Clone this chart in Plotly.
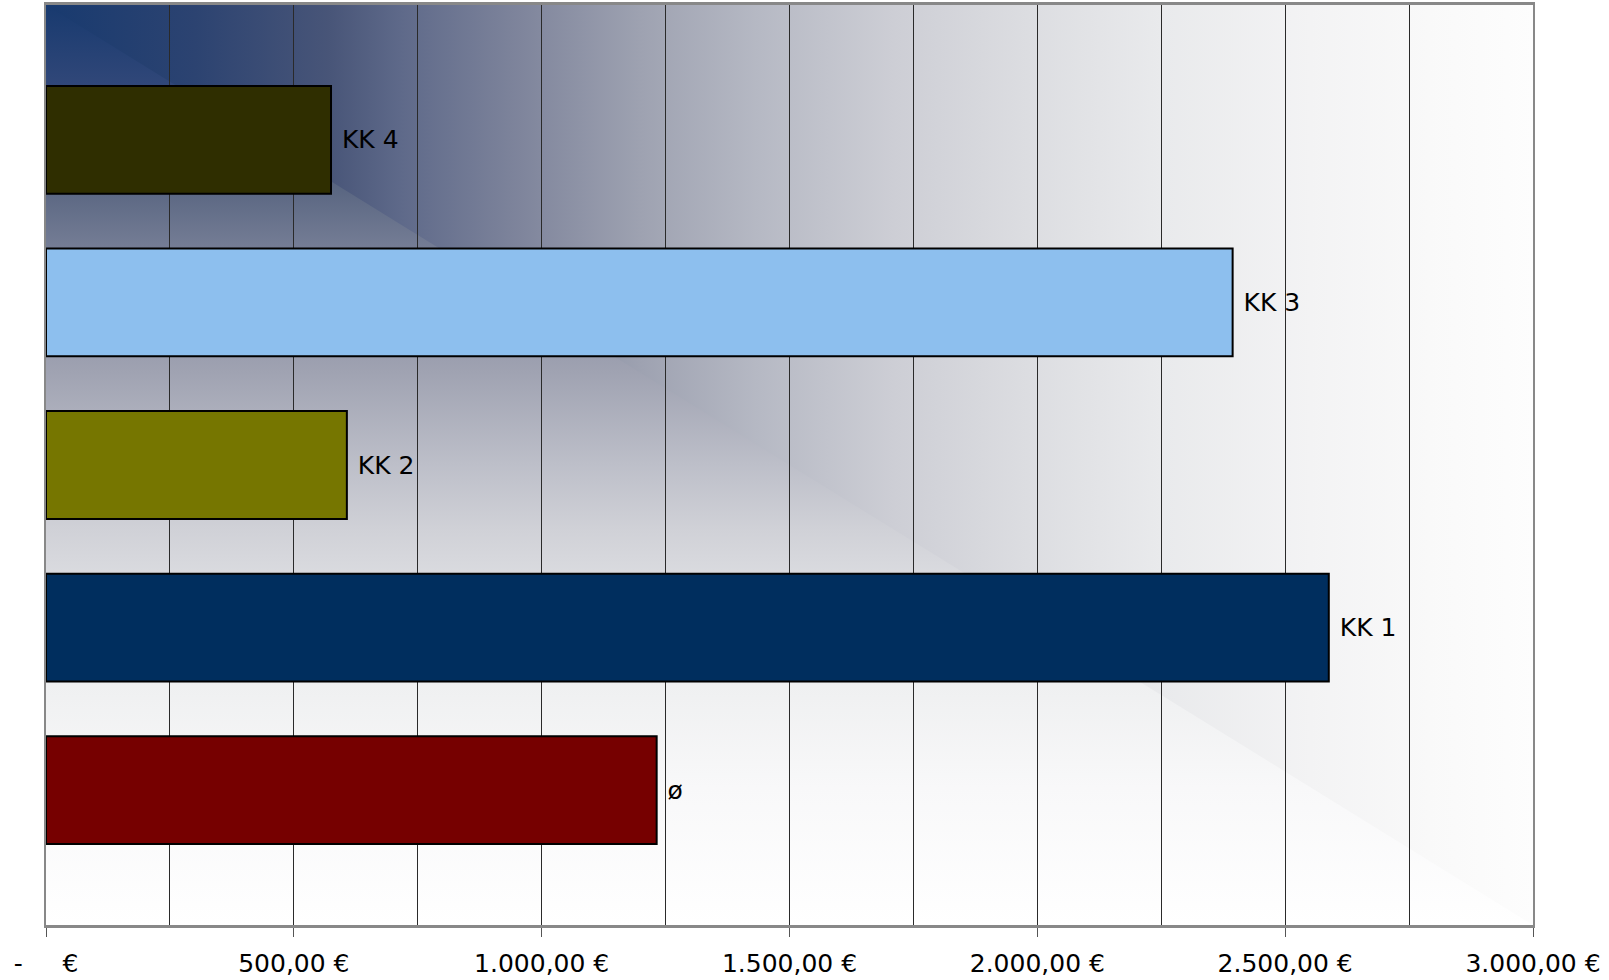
import base64

import plotly.graph_objects as go

# data, bottom to top
categories = ["ø", "KK 1", "KK 2", "KK 3", "KK 4"]
amounts = [1232, 2588, 607, 2394, 575]
bar_colors = ["#760000", "#002e5e", "#767600", "#8dbfee", "#2f2e00"]

tick_values = [0, 500, 1000, 1500, 2000, 2500, 3000]
tick_labels = [
    "-\u00a0\u00a0\u00a0\u00a0\u00a0€",
    "500,00 €",
    "1.000,00 €",
    "1.500,00 €",
    "2.000,00 €",
    "2.500,00 €",
    "3.000,00 €",
]

FONT = "DejaVu Sans, Verdana, sans-serif"


def corner_gradient_svg():
    """Rectangular 'from corner' gradient: dark blue top-left fading to white."""
    h_stops = [
        (0.00, "#183a6f"), (0.10, "#2c4371"), (0.19, "#485578"), (0.24, "#5f6a8a"),
        (0.32, "#7f859c"), (0.40, "#9ea2b1"), (0.48, "#b6b9c4"), (0.57, "#cdced5"),
        (0.66, "#dcdde1"), (0.75, "#e9eaec"), (0.85, "#f3f3f4"), (0.93, "#f9f9f9"),
        (1.00, "#fdfdfd"),
    ]
    v_stops = [
        (0.00, "#183a6f"), (0.10, "#34497a"), (0.19, "#56637f"), (0.30, "#848aa0"),
        (0.40, "#a0a3b2"), (0.50, "#bdbfc9"), (0.57, "#d0d1d7"), (0.66, "#e2e3e6"),
        (0.74, "#eff0f1"), (0.85, "#f8f8f9"), (1.00, "#ffffff"),
    ]

    def stops(s):
        return "".join(f"<stop offset='{o}' stop-color='{c}'/>" for o, c in s)

    svg = (
        "<svg xmlns='http://www.w3.org/2000/svg' width='1000' height='1000' "
        "viewBox='0 0 100 100' preserveAspectRatio='none'>"
        "<defs>"
        f"<linearGradient id='h' x1='0' y1='0' x2='1' y2='0'>{stops(h_stops)}</linearGradient>"
        f"<linearGradient id='v' x1='0' y1='0' x2='0' y2='1'>{stops(v_stops)}</linearGradient>"
        "</defs>"
        "<rect x='0' y='0' width='100' height='100' fill='url(#h)'/>"
        "<polygon points='0,0 0,100 100,100' fill='url(#v)'/>"
        "</svg>"
    )
    return "data:image/svg+xml;base64," + base64.b64encode(svg.encode()).decode()


fig = go.Figure()

fig.add_trace(
    go.Bar(
        y=categories,
        x=amounts,
        orientation="h",
        width=0.663,
        marker=dict(color=bar_colors, line=dict(color="#000000", width=2)),
        text=["\u00a0" + c for c in categories],
        textposition="outside",
        constraintext="none",
        cliponaxis=False,
        textfont=dict(family=FONT, size=25, color="#000000"),
        hoverinfo="skip",
    )
)

fig.add_layout_image(
    source=corner_gradient_svg(),
    xref="x domain",
    yref="y domain",
    x=0,
    y=1,
    sizex=1,
    sizey=1,
    xanchor="left",
    yanchor="top",
    sizing="stretch",
    layer="below",
)

fig.update_layout(
    width=1609,
    height=980,
    margin=dict(l=46, r=76, t=5, b=55, autoexpand=False),
    paper_bgcolor="#ffffff",
    plot_bgcolor="rgba(0,0,0,0)",
    showlegend=False,
    font=dict(family=FONT, size=25, color="#000000"),
)

fig.update_xaxes(
    range=[0, 3000],
    tickmode="array",
    tickvals=tick_values,
    ticktext=tick_labels,
    tickfont=dict(family=FONT, size=25, color="#000000"),
    ticks="outside",
    ticklen=9,
    tickcolor="#555555",
    ticklabelstandoff=5,
    automargin=False,
    showgrid=True,
    gridcolor="#2a2a2a",
    gridwidth=1,
    minor=dict(dtick=250, tick0=0, showgrid=True, gridcolor="#2a2a2a", gridwidth=1),
    zeroline=False,
    showline=True,
    linecolor="#888888",
    linewidth=3,
    mirror=True,
    fixedrange=True,
)

fig.update_yaxes(
    range=[-0.83, 4.83],
    showticklabels=False,
    ticks="",
    showgrid=False,
    zeroline=False,
    showline=True,
    linecolor="#888888",
    linewidth=2,
    mirror=True,
    automargin=False,
    fixedrange=True,
)

# the page's default body margin would shift the figure by 8px
fig.write_html(
    "out.html",
    config={"displayModeBar": False},
    post_script="document.body.style.margin='0';",
)
